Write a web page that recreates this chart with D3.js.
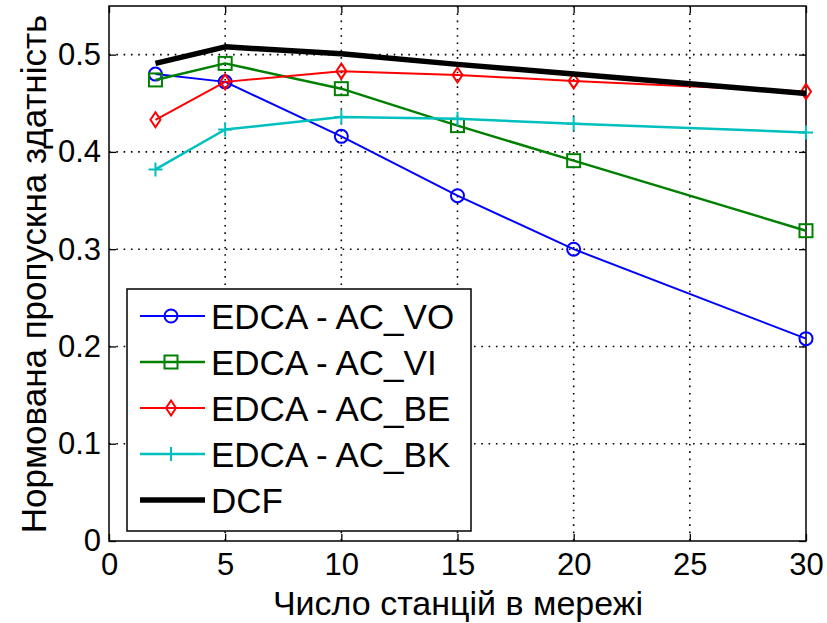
<!DOCTYPE html>
<html>
<head>
<meta charset="utf-8">
<script src="https://cdn.jsdelivr.net/npm/d3@7"></script>
<style>
  body { margin: 0; background: #fff; }
  text { font-family: "Liberation Sans", Arial, Helvetica, sans-serif; fill: #000; }
</style>
</head>
<body>
<div class="chart"></div>
<script>
var svgWidth = 827;
var svgHeight = 623;

var margin = { top: 6, right: 21, bottom: 82, left: 109 };
var width = svgWidth - margin.left - margin.right;
var height = svgHeight - margin.top - margin.bottom;

// data
var stations = [2, 5, 10, 15, 20, 30];
var acVO = [0.480, 0.472, 0.416, 0.355, 0.300, 0.208];
var acVI = [0.474, 0.491, 0.465, 0.427, 0.391, 0.319];
var acBE = [0.433, 0.472, 0.483, 0.479, 0.473, 0.462];
var acBK = [0.382, 0.423, 0.436, 0.434, 0.429, 0.420];
var dcf = [0.491, 0.508, 0.501, 0.490, 0.480, 0.460];

var seriesNames = ["EDCA - AC_VO", "EDCA - AC_VI", "EDCA - AC_BE", "EDCA - AC_BK", "DCF"];
var xTicks = [0, 5, 10, 15, 20, 25, 30];
var yTicks = [0, 0.1, 0.2, 0.3, 0.4, 0.5];

var series = [
    { name: seriesNames[0], values: acVO, color: "#0000ff", marker: "circle", lw: 2 },
    { name: seriesNames[1], values: acVI, color: "#008000", marker: "square", lw: 2.5 },
    { name: seriesNames[2], values: acBE, color: "#ff0000", marker: "diamond", lw: 2 },
    { name: seriesNames[3], values: acBK, color: "#00bfbf", marker: "plus", lw: 2.5 },
    { name: seriesNames[4], values: dcf, color: "#000000", marker: null, lw: 5.5 }
];

var svg = d3.select(".chart")
    .append("svg")
    .attr("width", svgWidth)
    .attr("height", svgHeight);

svg.append("rect").attr("width", svgWidth).attr("height", svgHeight).attr("fill", "#fff");

var chartGroup = svg.append("g")
    .attr("transform", `translate(${margin.left}, ${margin.top})`);

var xScale = d3.scaleLinear().domain([0, 30]).range([0, width]);
var yScale = d3.scaleLinear().domain([0, 0.55]).range([height, 0]);

// dotted grid
chartGroup.append("g")
    .selectAll("line")
    .data(xTicks.slice(1, -1))
    .enter()
    .append("line")
    .attr("x1", d => xScale(d)).attr("x2", d => xScale(d))
    .attr("y1", 0).attr("y2", height)
    .attr("stroke", "#000").attr("stroke-width", 1.6)
    .attr("stroke-dasharray", "1.6,5.7");

chartGroup.append("g")
    .selectAll("line")
    .data(yTicks.slice(1))
    .enter()
    .append("line")
    .attr("y1", d => yScale(d)).attr("y2", d => yScale(d))
    .attr("x1", 0).attr("x2", width)
    .attr("stroke", "#000").attr("stroke-width", 1.6)
    .attr("stroke-dasharray", "1.6,5.7");

// axes
var bottomAxis = d3.axisBottom(xScale).tickValues(xTicks).tickSizeInner(-7).tickSizeOuter(0).tickPadding(12);
var leftAxis = d3.axisLeft(yScale).tickValues(yTicks).tickSizeInner(-7).tickSizeOuter(0).tickPadding(8)
    .tickFormat(d => d === 0 ? "0" : d3.format(".1f")(d));
var topAxis = d3.axisTop(xScale).tickValues(xTicks).tickSizeInner(-7).tickSizeOuter(0).tickFormat("");
var rightAxis = d3.axisRight(yScale).tickValues(yTicks).tickSizeInner(-7).tickSizeOuter(0).tickFormat("");

function styleAxis(g) {
    g.select(".domain").remove();
    g.selectAll("line").attr("stroke", "#000").attr("stroke-width", 1.3);
    g.selectAll("text").attr("font-size", 31).attr("font-family", null);
}

chartGroup.append("g").attr("transform", `translate(0, ${height})`).call(bottomAxis).call(styleAxis);
chartGroup.append("g").call(leftAxis).call(styleAxis);
chartGroup.append("g").call(topAxis).call(styleAxis);
chartGroup.append("g").attr("transform", `translate(${width}, 0)`).call(rightAxis).call(styleAxis);

chartGroup.append("rect")
    .attr("width", width).attr("height", height)
    .attr("fill", "none").attr("stroke", "#000").attr("stroke-width", 1.5);

// lines
var line = d3.line()
    .x((d, i) => xScale(stations[i]))
    .y(d => yScale(d));

function drawMarker(g, type, color) {
    if (type === "circle") {
        g.append("circle").attr("r", 6.5).attr("fill", "none").attr("stroke", color).attr("stroke-width", 2);
    } else if (type === "square") {
        g.append("rect").attr("x", -6.5).attr("y", -6.5).attr("width", 13).attr("height", 13)
            .attr("fill", "none").attr("stroke", color).attr("stroke-width", 2);
    } else if (type === "diamond") {
        g.append("path").attr("d", "M0,-7.5L5,0L0,7.5L-5,0Z")
            .attr("fill", "none").attr("stroke", color).attr("stroke-width", 2);
    } else if (type === "plus") {
        g.append("path").attr("d", "M-7,0H7M0,-7V7")
            .attr("fill", "none").attr("stroke", color).attr("stroke-width", 2);
    }
}

series.forEach(function(s) {
    chartGroup.append("path")
        .datum(s.values)
        .attr("d", line)
        .attr("fill", "none")
        .attr("stroke", s.color)
        .attr("stroke-width", s.lw)
        .attr("stroke-linejoin", "round");
    if (s.marker) {
        s.values.forEach(function(v, i) {
            var g = chartGroup.append("g")
                .attr("transform", `translate(${xScale(stations[i])}, ${yScale(v)})`);
            drawMarker(g, s.marker, s.color);
        });
    }
});

// legend
var legend = svg.append("g").attr("transform", "translate(127, 289)");
legend.append("rect")
    .attr("width", 344).attr("height", 242)
    .attr("fill", "#fff").attr("stroke", "#000").attr("stroke-width", 1.5);

series.forEach(function(s, i) {
    var row = legend.append("g").attr("transform", `translate(0, ${27 + i * 46})`);
    row.append("line")
        .attr("x1", 13).attr("x2", 78)
        .attr("stroke", s.color).attr("stroke-width", s.lw);
    if (s.marker) {
        drawMarker(row.append("g").attr("transform", "translate(44, 0)"), s.marker, s.color);
    }
    row.append("text")
        .attr("x", 84).attr("y", 12.5)
        .attr("font-size", 35)
        .text(s.name);
});

// axis titles
svg.append("text")
    .attr("x", 458)
    .attr("y", 615)
    .attr("text-anchor", "middle")
    .attr("font-size", 34)
    .text("Число станцій в мережі");

svg.append("text")
    .attr("transform", `translate(46, 274) rotate(-90)`)
    .attr("text-anchor", "middle")
    .attr("font-size", 35)
    .text("Нормована пропускна здатність");
</script>
</body>
</html>
